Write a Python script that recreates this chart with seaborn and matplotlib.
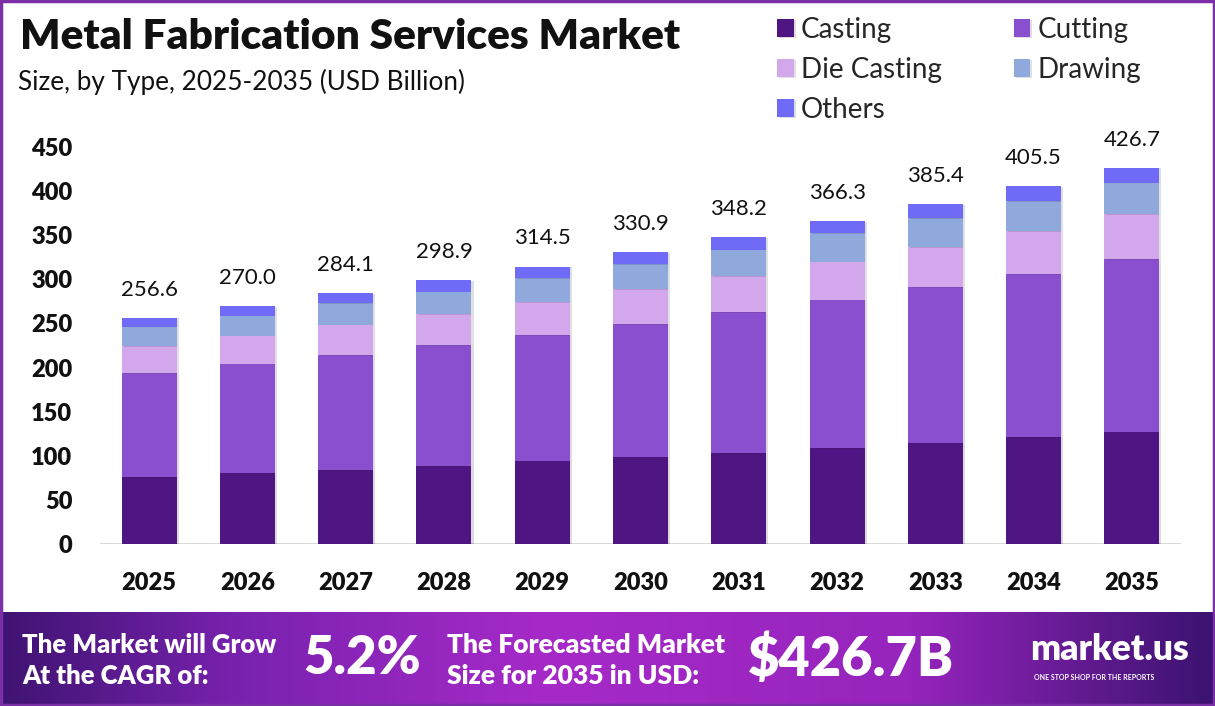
import numpy as np
import pandas as pd
import matplotlib
matplotlib.use("Agg")
import matplotlib.pyplot as plt
import matplotlib.patheffects as pe
from matplotlib.colors import LinearSegmentedColormap
from matplotlib.patches import Rectangle
import seaborn as sns

years = ["2025", "2026", "2027", "2028", "2029", "2030", "2031", "2032", "2033", "2034", "2035"]
casting = [76.0, 80.5, 84.0, 88.5, 94.5, 98.5, 103.0, 109.0, 114.5, 121.5, 127.5]
cutting = [118.0, 124.0, 130.0, 137.0, 142.5, 151.0, 160.0, 168.0, 177.0, 184.5, 195.0]
die_casting = [30.5, 31.5, 34.5, 35.0, 37.5, 39.5, 41.0, 43.0, 45.0, 49.0, 51.0]
drawing = [22.0, 23.0, 24.5, 25.5, 27.0, 28.5, 29.5, 32.0, 33.0, 34.0, 36.0]
others = [10.1, 11.0, 11.1, 12.9, 13.0, 13.4, 14.7, 14.3, 15.9, 16.5, 17.2]
totals = [256.6, 270.0, 284.1, 298.9, 314.5, 330.9, 348.2, 366.3, 385.4, 405.5, 426.7]

segments = ["Casting", "Cutting", "Die Casting", "Drawing", "Others"]
colors = ["#4f1683", "#8a4fcf", "#d3a7eb", "#8fa9dc", "#6f6bf6"]

df = pd.DataFrame({"Year": years, "Casting": casting, "Cutting": cutting,
                   "Die Casting": die_casting, "Drawing": drawing, "Others": others})

sns.set_style("white")
plt.rcParams["font.family"] = ["Lato", "DejaVu Sans"]

fig = plt.figure(figsize=(12.15, 7.06), dpi=100)
ax = fig.add_axes([100 / 1215, 162 / 706, 1081 / 1215, 470 * 0.8822 / 706])

bottom = np.zeros(len(years))
handles = {}
for seg, col in zip(segments, colors):
    sns.barplot(data=df, x="Year", y=seg, color=col, width=0.56, bottom=bottom,
                ax=ax, saturation=1, label=seg, zorder=2, linewidth=0, edgecolor=col)
    handles[seg] = ax.containers[-1]
    for p in ax.containers[-1]:
        p.set_path_effects([pe.SimplePatchShadow(offset=(1.5, -0.5), alpha=0.15), pe.Normal()])
    bottom = bottom + df[seg].values

ax.set_xlim(-0.5, len(years) - 0.5)
ax.set_ylim(0, 470)
ax.set_yticks(np.arange(0, 451, 50))
ax.set_xlabel("")
ax.set_ylabel("")
if ax.get_legend() is not None:
    ax.get_legend().remove()
sns.despine(ax=ax, left=True, top=True, right=True, bottom=True)
ax.axhline(0, color="#d4d4d4", lw=2, zorder=1)
ax.tick_params(axis="y", length=0, pad=20, labelsize=17)
ax.tick_params(axis="x", length=0, pad=20, labelsize=17)
for lbl in ax.get_xticklabels() + ax.get_yticklabels():
    lbl.set_fontweight("heavy")
    lbl.set_color("#111111")

for i, t in enumerate(totals):
    ax.annotate(f"{t:.1f}", xy=(i, t), xytext=(0, 13), textcoords="offset points",
                ha="center", va="bottom", fontsize=16, color="#111111")

# title
fig.text(20 / 1215, 1 - 37 / 706, "Metal Fabrication Services Market", fontsize=30.5,
         fontweight="heavy", va="center", ha="left", color="#111111")
fig.text(18 / 1215, 1 - 82 / 706, "Size, by Type, 2025-2035 (USD Billion)", fontsize=18.8,
         va="center", ha="left", color="#111111")

# legend
order = ["Casting", "Die Casting", "Others", "Cutting", "Drawing"]
leg = fig.legend([handles[o] for o in order], order, loc="upper left",
                 bbox_to_anchor=(752 / 1215, 1 + 8 / 706), ncol=2, frameon=False,
                 fontsize=20, handlelength=0.6, handleheight=0.6, handletextpad=0.25,
                 columnspacing=2.6, labelspacing=0.5)

# bottom banner
bax = fig.add_axes([0, 0, 1, 94 / 706])
cmap = LinearSegmentedColormap.from_list("banner", [
    (0.0, "#3f1472"), (0.2, "#7a22b0"), (0.45, "#a62ac8"),
    (0.75, "#9624bd"), (1.0, "#3b1370")])
grad = np.linspace(0, 1, 512).reshape(1, -1)
bax.imshow(grad, aspect="auto", cmap=cmap, extent=[0, 1, 0, 1])
bax.set_xlim(0, 1)
bax.set_ylim(0, 1)
bax.axis("off")

white = "white"
bax.text(22 / 1215, 0.65, "The Market will Grow", color=white, fontsize=18.5,
         fontweight="heavy", va="center", ha="left")
bax.text(22 / 1215, 0.32, "At the CAGR of:", color=white, fontsize=18.5,
         fontweight="heavy", va="center", ha="left")
bax.text(303 / 1215, 0.5, "5.2%", color=white, fontsize=38,
         fontweight="heavy", va="center", ha="left")
bax.text(447 / 1215, 0.65, "The Forecasted Market", color=white, fontsize=19,
         fontweight="heavy", va="center", ha="left")
bax.text(447 / 1215, 0.32, "Size for 2035 in USD:", color=white, fontsize=19,
         fontweight="heavy", va="center", ha="left")
bax.text(748 / 1215, 0.5, "$426.7B", color=white, fontsize=39,
         fontweight="heavy", va="center", ha="left")
bax.text(1030 / 1215, 0.6, "market.us", color=white, fontsize=25.5,
         fontweight="heavy", va="center", ha="left")
bax.text(1034 / 1215, 0.3, "ONE STOP SHOP FOR THE REPORTS", color=white, fontsize=5,
         fontweight="bold", va="center", ha="left")

# outer frame
fig.patches.append(Rectangle((0.001, 0.001), 0.998, 0.997, transform=fig.transFigure,
                             fill=False, edgecolor="#7a2fa6", lw=2.5, zorder=10))

fig.savefig("out.png", dpi=100)
